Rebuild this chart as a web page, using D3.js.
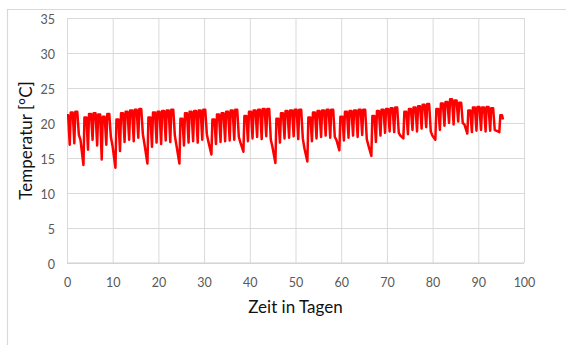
<!DOCTYPE html>
<html>
<head>
<meta charset="utf-8">
<script src="https://cdn.jsdelivr.net/npm/d3@7"></script>
<style>
  html, body { margin: 0; padding: 0; background: #fff; }
  svg { display: block; font-family: Lato, "Open Sans", sans-serif; }
</style>
</head>
<body>
<svg id="chart" width="566" height="345"></svg>
<script>
// Room temperature log: one reading per daily heating cycle.
// dayHigh[j]: level reached during day j; dayLow[j]: minimum reached before day j starts heating.
const dayHigh = [
  21.1, 21.5, 21.6, 17.6,
  20.8, 21.3, 21.4, 21.2, 20.9, 21.3, 16.8,
  20.5, 21.4, 21.6, 21.8, 21.9, 22.0, 17.0,
  20.8, 21.5, 21.6, 21.7, 21.8, 21.9, 16.8,
  20.6, 21.4, 21.6, 21.7, 21.8, 21.9, 17.3,
  20.5, 21.2, 21.4, 21.6, 21.8, 21.9, 17.2,
  21.0, 21.6, 21.8, 21.9, 22.0, 22.0, 16.6,
  20.6, 21.4, 21.7, 21.8, 21.9, 21.9, 16.4,
  20.8, 21.5, 21.7, 21.8, 21.9, 21.9, 17.6,
  20.9, 21.6, 21.7, 21.8, 21.9, 21.9, 16.8,
  21.0, 21.7, 21.9, 22.0, 22.1, 22.2, 18.2,
  21.6, 22.0, 22.2, 22.4, 22.6, 22.7, 18.2,
  22.0, 22.8, 23.0, 23.4, 23.2, 22.9, 19.8,
  21.8, 22.2, 22.3, 22.2, 22.3, 22.1, 18.9,
  21.1
];
const dayLow = [
  null, 16.9, 17.1, 18.3,
  14.0, 16.2, 17.6, 16.8, 14.8, 16.9, 18.0,
  13.6, 16.0, 17.3, 17.6, 17.4, 17.9, 18.4,
  14.2, 16.6, 17.2, 17.0, 17.5, 17.3, 18.2,
  14.2, 16.8, 17.2, 17.4, 17.2, 17.6, 18.4,
  15.5, 17.0, 17.3, 17.4, 17.5, 17.6, 18.0,
  15.9, 17.4, 17.8, 18.0, 17.7, 18.1, 17.6,
  14.3, 17.2, 17.8, 17.9, 18.1, 17.7, 17.8,
  14.5, 17.4, 17.8, 18.0, 18.2, 17.9, 18.0,
  16.1, 17.5, 17.9, 18.2, 18.0, 18.3, 17.7,
  15.3, 17.3, 18.2, 18.6, 18.8, 18.7, 18.6,
  17.8, 18.4, 19.0, 18.8, 19.2, 19.4, 18.8,
  17.6, 19.0, 19.6, 20.0, 19.8, 20.2, 20.0,
  18.5, 18.7, 18.9, 19.0, 18.8, 18.9, 19.0,
  18.7
];
const lastReading = { t: 95.4, v: 20.5 };

const xTicks = [0, 10, 20, 30, 40, 50, 60, 70, 80, 90, 100];
const yTicks = [0, 5, 10, 15, 20, 25, 30, 35];
const xTitle = "Zeit in Tagen";
const yTitle = "Temperatur [°C]";

// Build the time series. Heated days: low point, morning rise, held level, evening drop.
// Unheated days (level below the preceding low) just keep cooling down.
const series = [];
dayHigh.forEach((h, j) => {
  const last = j === dayHigh.length - 1;
  if (j === 0) {
    series.push([0, h]);
    series.push([0.25, h]);
    return;
  }
  const lo = dayLow[j];
  series.push([j - 0.4, lo]);
  if (h < lo) {
    series.push([j - 0.05, h]);
  } else {
    series.push([j - 0.18, h]);
    series.push([last ? lastReading.t - 0.2 : j + 0.25, h]);
  }
});
series.push([lastReading.t, lastReading.v]);

const svg = d3.select("#chart");
const W = 566, H = 345;
const m = { left: 67, top: 18, right: 42, bottom: 82 };
const pw = W - m.left - m.right;
const ph = H - m.top - m.bottom;

// Outer chart frame
svg.append("path")
  .attr("d", `M7.5,${H} V9.5 H${W}`)
  .attr("fill", "none")
  .attr("stroke", "#d9d9d9")
  .attr("stroke-width", 1.2);

const g = svg.append("g").attr("transform", `translate(${m.left},${m.top})`);

const x = d3.scaleLinear().domain([0, 100]).range([0, pw]);
const y = d3.scaleLinear().domain([0, 35]).range([ph, 0]);

// Gridlines
const gridX = d3.axisBottom(x).tickValues(xTicks).tickSize(-ph).tickFormat("");
const gridY = d3.axisLeft(y).tickValues(yTicks).tickSize(-pw).tickFormat("");
g.append("g").attr("transform", `translate(0,${ph})`).call(gridX)
  .call(s => s.select(".domain").remove())
  .call(s => s.selectAll("line").attr("stroke", "#d9d9d9").attr("stroke-width", 1));
g.append("g").call(gridY)
  .call(s => s.select(".domain").remove())
  .call(s => s.selectAll("line").attr("stroke", "#d9d9d9").attr("stroke-width", 1));

// Axis base line
g.append("line")
  .attr("x1", 0).attr("x2", pw)
  .attr("y1", y(0)).attr("y2", y(0))
  .attr("stroke", "#cfcfcf").attr("stroke-width", 1.2);

// Tick labels
const xAxis = d3.axisBottom(x).tickValues(xTicks).tickSize(0).tickPadding(15).tickFormat(d3.format("d"));
const yAxis = d3.axisLeft(y).tickValues(yTicks).tickSize(0).tickPadding(12).tickFormat(d3.format("d"));
g.append("g").attr("transform", `translate(0,${ph})`).call(xAxis)
  .call(s => s.select(".domain").remove())
  .call(s => s.selectAll("text").attr("fill", "#595959").attr("font-size", 12.5)
    .attr("font-family", "Lato, 'Open Sans', sans-serif"));
g.append("g").call(yAxis)
  .call(s => s.select(".domain").remove())
  .call(s => s.selectAll("text").attr("fill", "#595959").attr("font-size", 12.5)
    .attr("font-family", "Lato, 'Open Sans', sans-serif").attr("dy", "0.4em"));

// Temperature line
const line = d3.line().x(d => x(d[0])).y(d => y(d[1]));
g.append("path")
  .datum(series)
  .attr("fill", "none")
  .attr("stroke", "#ff0000")
  .attr("stroke-width", 2.5)
  .attr("stroke-linejoin", "round")
  .attr("d", line);

// Axis titles
svg.append("text")
  .attr("x", m.left + pw / 2).attr("y", 313)
  .attr("text-anchor", "middle")
  .attr("font-size", 17).attr("fill", "#111")
  .text(xTitle);
svg.append("text")
  .attr("transform", `translate(32,${m.top + ph / 2}) rotate(-90)`)
  .attr("text-anchor", "middle")
  .attr("font-size", 17).attr("fill", "#111")
  .text(yTitle);
</script>
</body>
</html>
